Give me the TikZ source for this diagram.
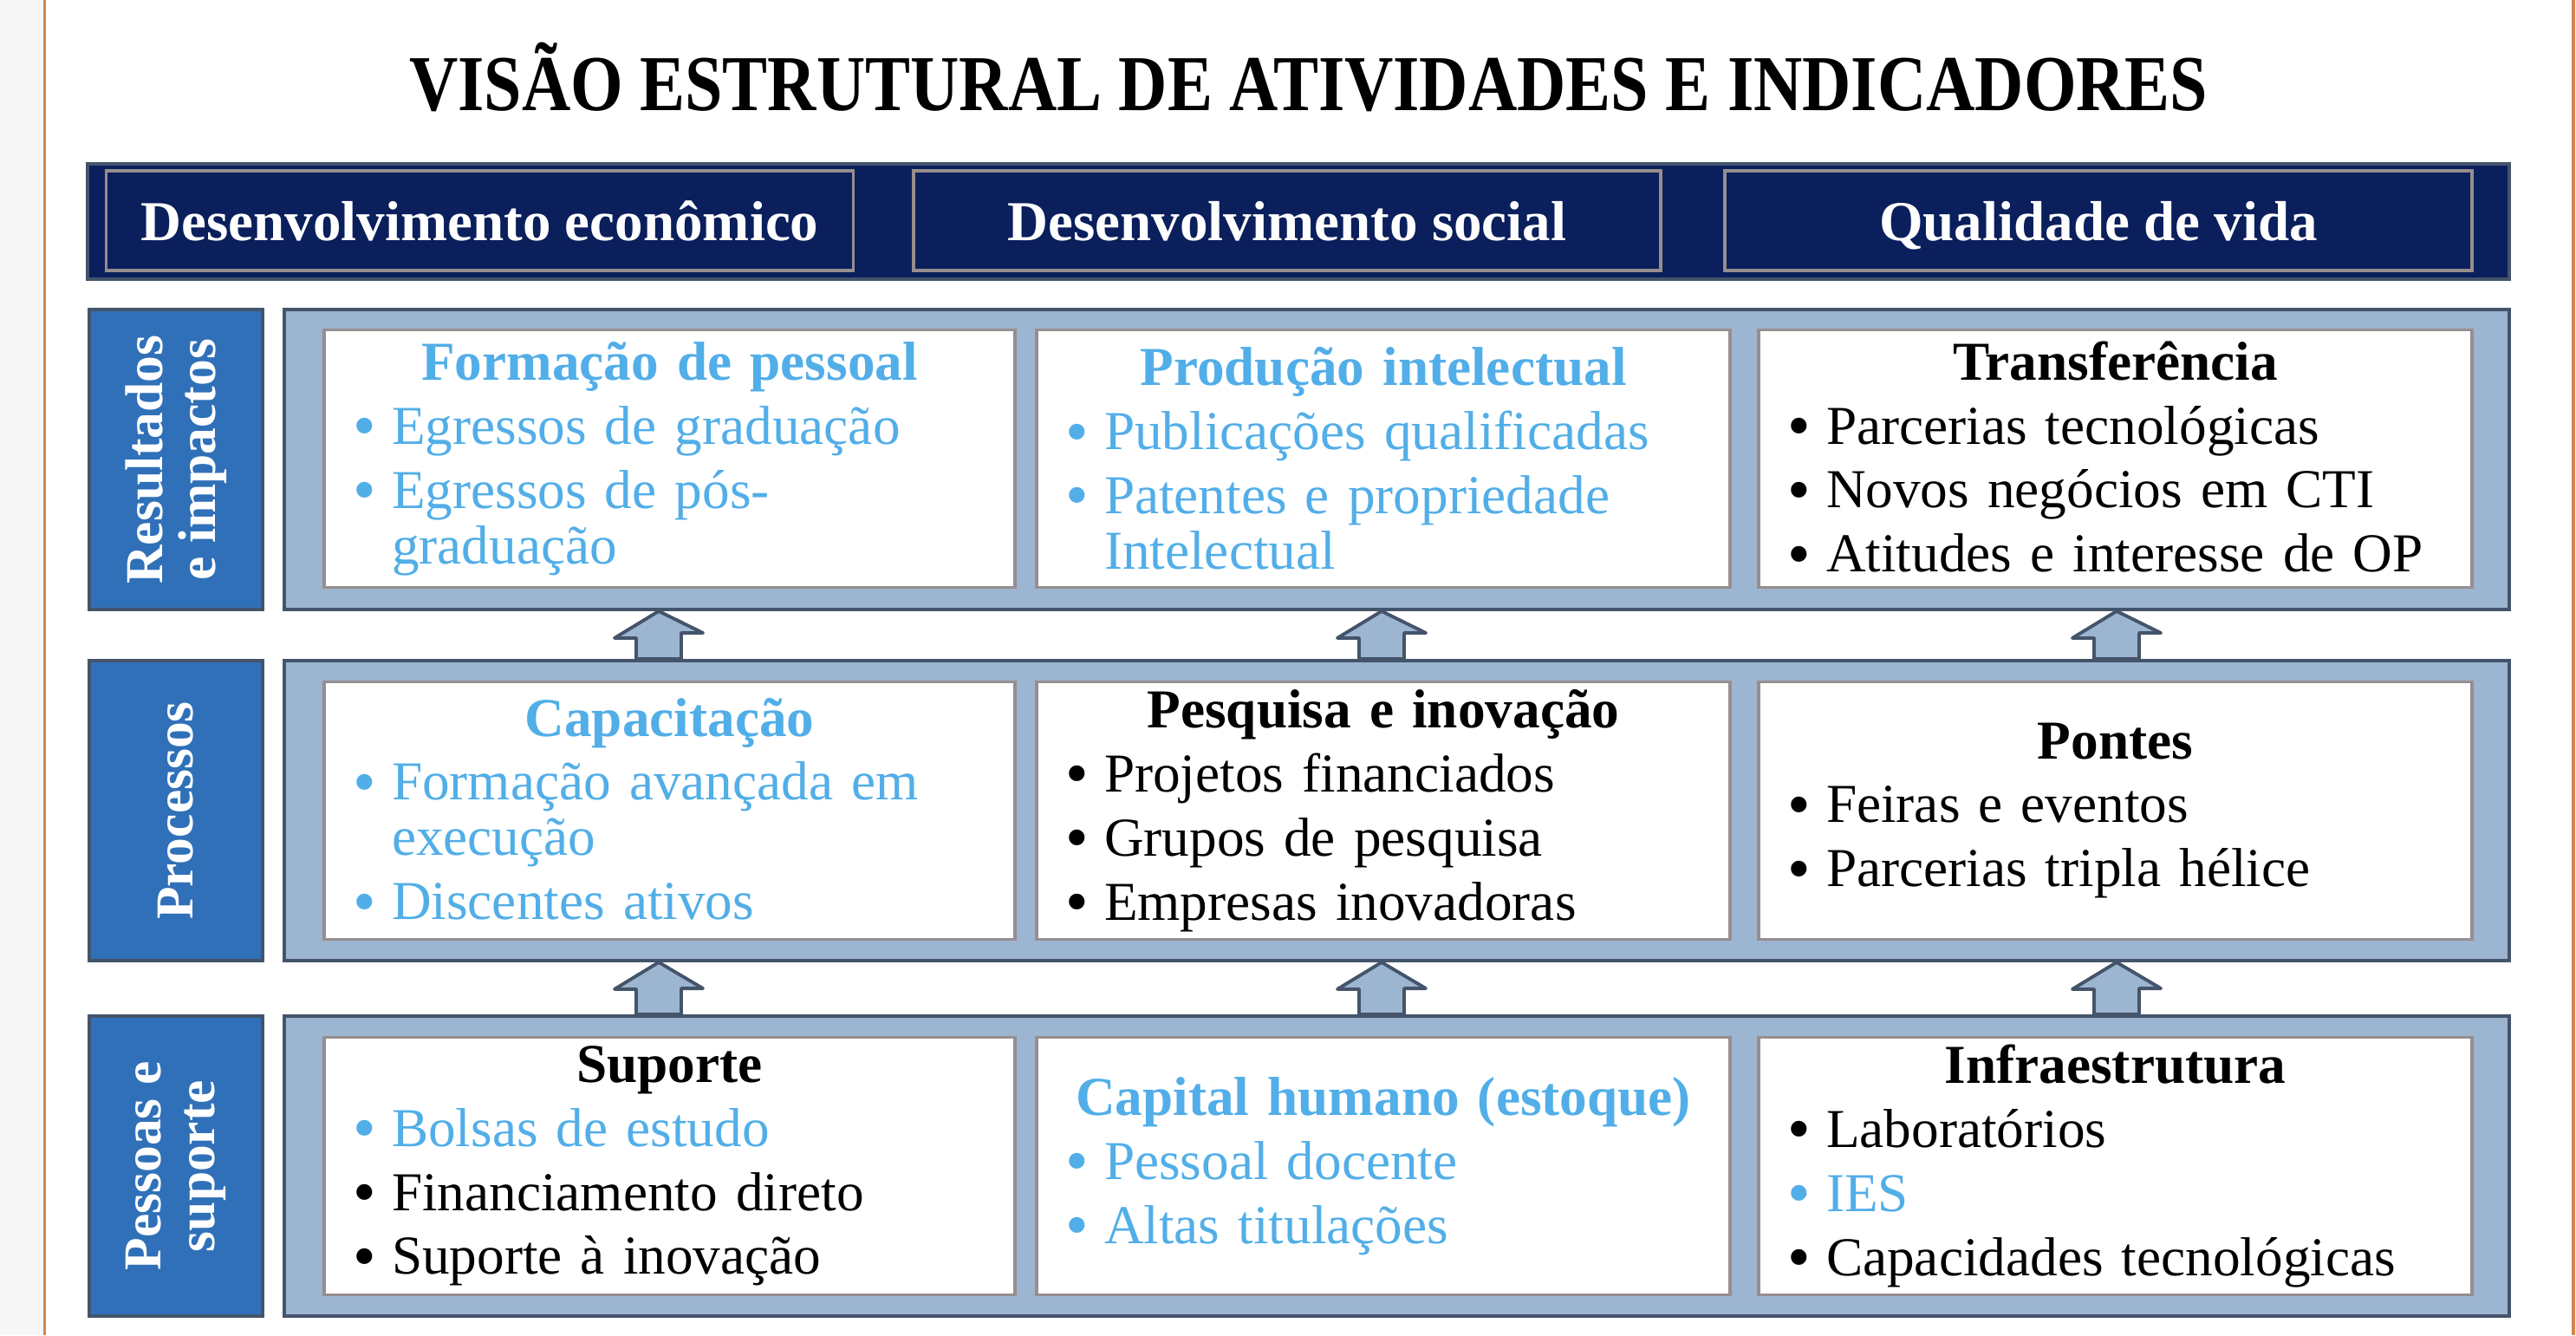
\documentclass[tikz,border=0pt]{standalone}
\usepackage{fontspec}
\usepackage{graphicx}
\setmainfont{Liberation Serif}
\newfontfamily\titlefont{Liberation Serif}[FakeStretch=0.853]
\usetikzlibrary{calc}

\definecolor{navy}{HTML}{0A1F5C}
\definecolor{slateline}{HTML}{44546A}
\definecolor{panelblue}{HTML}{9CB5D0}
\definecolor{tagblue}{HTML}{3070B8}
\definecolor{cardline}{HTML}{968E8E}
\definecolor{txtblue}{HTML}{52AEE8}
\definecolor{edgeorange}{HTML}{D38550}
\definecolor{sidegray}{HTML}{F7F7F7}

% cabecalho e itens das caixas
\newcommand{\hd}[1]{{\centering\bfseries #1\par}}
\newcommand{\bhd}[1]{{\color{txtblue}\centering\bfseries #1\par}}
\newcommand{\itm}[1]{\hangindent=0.45cm\hangafter=1\noindent\makebox[0.45cm][l]{\raisebox{-0.07em}{\scalebox{1.2}{\textbullet}}}#1\par}
\newcommand{\bitm}[1]{{\color{txtblue}\itm{#1}}}

\begin{document}
\begin{tikzpicture}[
  band/.style={draw=slateline, line width=1.1pt, fill=panelblue, minimum width=25.67cm, minimum height=3.46cm},
  tag/.style={draw=slateline, line width=1.1pt, fill=tagblue, minimum width=3.46cm, minimum height=2.00cm,
    rotate=90, text=white, align=center, font=\fontsize{17.5}{17.5}\selectfont\bfseries},
  card/.style={draw=cardline, line width=0.9pt, fill=white, inner xsep=0.33cm, inner ysep=0.05cm,
    minimum height=2.97cm, text width=#1, align=left,
    font=\fontsize{18}{18.2}\selectfont\setlength{\parskip}{2.8pt}},
  goal/.style={draw=cardline, line width=0.9pt, minimum width=8.62cm, minimum height=1.15cm,
    text=white, text height=13pt, text depth=0pt, font=\fontsize{18.5}{20}\selectfont\bfseries},
  blockarr/.style={draw=slateline, line width=1.1pt, fill=panelblue, line join=round}]

\useasboundingbox (0,0) rectangle (29.72,15.40);

% --- margens ---
\fill[sidegray] (0,0) rectangle (0.49,15.40);
\draw[edgeorange, line width=0.03cm] (0.515,0) -- (0.515,15.40);
\draw[edgeorange, line width=0.04cm] (29.69,0) -- (29.69,15.40);

% --- titulo e barra de objetivos ---
\node[anchor=base, font=\titlefont\fontsize{26}{30}\selectfont\bfseries] (title) at (15.10,14.12)
  {VISÃO ESTRUTURAL DE ATIVIDADES E INDICADORES};
\node[draw=slateline, line width=1.1pt, fill=navy, minimum width=27.94cm, minimum height=1.33cm] (bar) at (14.98,12.845) {};
\node[goal] (eco) at (5.535,12.855) {Desenvolvimento econômico};
\node[goal] (soc) at (14.85,12.855) {Desenvolvimento social};
\node[goal] (qual) at (24.21,12.855) {Qualidade de vida};

% --- faixas ---
\node[tag] (tres) at (2.03,10.10) {Resultados\\e impactos};
\node[tag] (tpro) at (2.03,6.05) {Processos};
\node[tag] (tpes) at (2.03,1.95) {Pessoas e\\suporte};
\node[band] (res) at (16.115,10.10) {};
\node[band] (pro) at (16.115,6.05) {};
\node[band] (pes) at (16.115,1.95) {};

% --- setas entre faixas ---
\foreach \ax in {7.60,15.94,24.42}{
  \foreach \lo/\up in {pro/res, pes/pro}{
    \coordinate (ax) at (\ax,0);
    \draw[blockarr] ($(ax |- \lo.north)+(-0.26,0)$) -- ++(0.52,0) -- ++(0,0.30) -- ++(0.25,0)
      -- (ax |- \up.south) -- ++(-0.51,-0.31) -- ++(0.25,0) -- cycle;
  }
}

% --- resultados e impactos ---
\node[card=7.31cm] (form) at (7.725,10.11)
  {\bhd{Formação de pessoal}\bitm{Egressos de graduação}\bitm{Egressos de pós-\newline graduação}};
\node[card=7.34cm] (prod) at (15.96,10.11)
  {\bhd{Produção intelectual}\bitm{Publicações qualificadas}\bitm{Patentes e propriedade\newline Intelectual}};
\node[card=7.57cm] (transf) at (24.405,10.11)
  {\hd{Transferência}\itm{Parcerias tecnológicas}\itm{Novos negócios em CTI}\itm{Atitudes e interesse de OP}};

% --- processos ---
\node[card=7.31cm] (capac) at (7.725,6.05)
  {\bhd{Capacitação}\bitm{Formação avançada em\newline execução}\bitm{Discentes ativos}};
\node[card=7.34cm] (pesq) at (15.96,6.05)
  {\hd{Pesquisa e inovação}\itm{Projetos financiados}\itm{Grupos de pesquisa}\itm{Empresas inovadoras}};
\node[card=7.57cm] (pont) at (24.405,6.05)
  {\hd{Pontes}\itm{Feiras e eventos}\itm{Parcerias tripla hélice}};

% --- pessoas e suporte ---
\node[card=7.31cm] (sup) at (7.725,1.95)
  {\hd{Suporte}\bitm{Bolsas de estudo}\itm{Financiamento direto}\itm{Suporte à inovação}};
\node[card=7.34cm] (cap) at (15.96,1.95)
  {\bhd{Capital humano (estoque)}\bitm{Pessoal docente}\bitm{Altas titulações}};
\node[card=7.57cm] (infra) at (24.405,1.95)
  {\hd{Infraestrutura}\itm{Laboratórios}\bitm{IES}\itm{Capacidades tecnológicas}};
\end{tikzpicture}
\end{document}
